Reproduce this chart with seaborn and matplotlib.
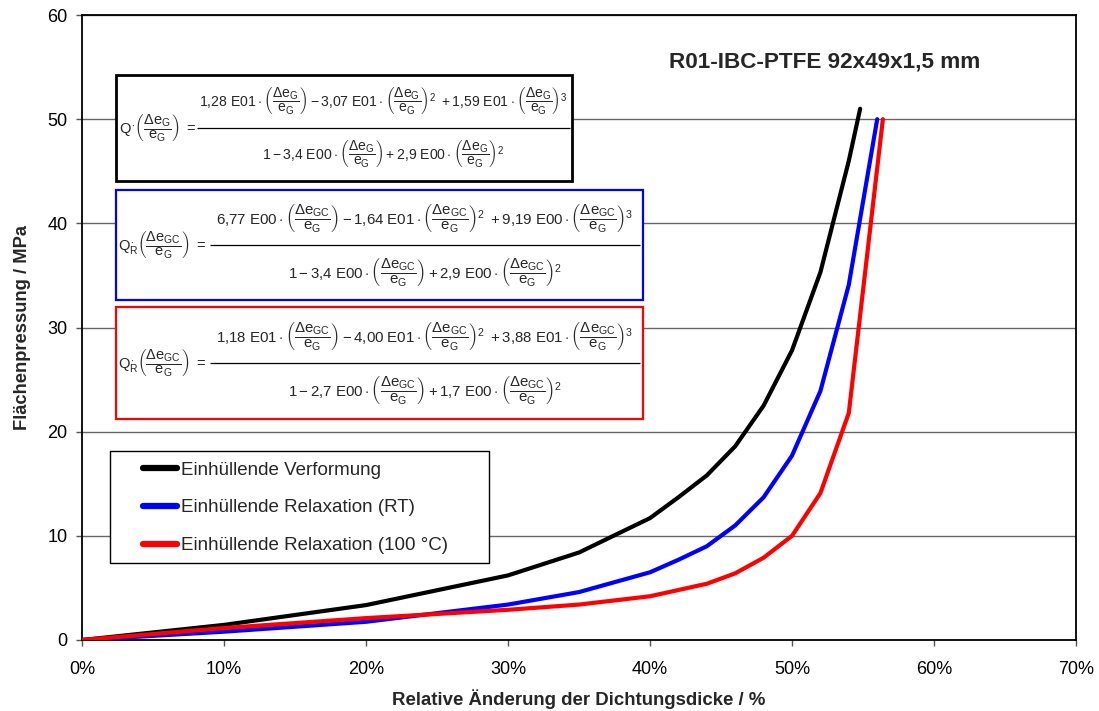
import numpy as np
import pandas as pd
import matplotlib
matplotlib.use("Agg")
import matplotlib.pyplot as plt
import seaborn as sns
from matplotlib.patches import Rectangle
from matplotlib.ticker import FuncFormatter

# ---- data ----
x_verformung = [0, 10, 20, 30, 35, 40, 42, 44, 46, 48, 50, 52, 54, 54.8]
y_verformung = [0, 1.45, 3.35, 6.2, 8.4, 11.7, 13.7, 15.8, 18.6, 22.5, 27.8, 35.3, 46.0, 51.0]

x_relax_rt = [0, 10, 20, 30, 35, 40, 42, 44, 46, 48, 50, 52, 54, 56.0]
y_relax_rt = [0, 0.8, 1.75, 3.4, 4.6, 6.5, 7.7, 9.0, 11.0, 13.7, 17.7, 23.9, 34.1, 50.0]

x_relax_100 = [0, 10, 20, 30, 35, 40, 42, 44, 46, 48, 50, 52, 54, 56.4]
y_relax_100 = [0, 1.15, 2.1, 2.9, 3.4, 4.2, 4.8, 5.4, 6.4, 7.9, 10.0, 14.1, 21.8, 50.0]

series_labels = ["Einhüllende Verformung", "Einhüllende Relaxation (RT)",
                 "Einhüllende Relaxation (100 °C)"]
series_colors = ["#000000", "#0000FF", "#FF0000"]

x_ticks = [0, 10, 20, 30, 40, 50, 60, 70]
y_ticks = [0, 10, 20, 30, 40, 50, 60]

title_text = "R01-IBC-PTFE 92x49x1,5 mm"
x_label = "Relative Änderung der Dichtungsdicke / %"
y_label = "Flächenpressung / MPa"

# formula texts (numerator / denominator kept separate)
fG = r"\left(\dfrac{\Delta e_G}{e_G}\right)"
fGC = r"\left(\dfrac{\Delta e_{GC}}{e_G}\right)"

lhs_black = r"$Q^{\cdot}" + fG + r"\ =$"
num_black = r"$1{,}28\ E01\cdot" + fG + r"-3{,}07\ E01\cdot" + fG + r"^2\ +1{,}59\ E01\cdot" + fG + r"^3$"
den_black = r"$1-3{,}4\ E00\cdot" + fG + r"+2{,}9\ E00\cdot" + fG + r"^2$"

lhs_blue = r"$Q^{\cdot}_{R}" + fGC + r"\ =$"
num_blue = r"$6{,}77\ E00\cdot" + fGC + r"-1{,}64\ E01\cdot" + fGC + r"^2\ +9{,}19\ E00\cdot" + fGC + r"^3$"
den_blue = r"$1-3{,}4\ E00\cdot" + fGC + r"+2{,}9\ E00\cdot" + fGC + r"^2$"

lhs_red = r"$Q^{\cdot}_{R}" + fGC + r"\ =$"
num_red = r"$1{,}18\ E01\cdot" + fGC + r"-4{,}00\ E01\cdot" + fGC + r"^2\ +3{,}88\ E01\cdot" + fGC + r"^3$"
den_red = r"$1-2{,}7\ E00\cdot" + fGC + r"+1{,}7\ E00\cdot" + fGC + r"^2$"

# ---- style ----
sns.set_theme(style="white")
plt.rcParams["font.family"] = ["Liberation Sans", "DejaVu Sans"]
plt.rcParams["mathtext.fontset"] = "custom"
plt.rcParams["mathtext.rm"] = "Liberation Sans"
plt.rcParams["mathtext.it"] = "Liberation Sans"
plt.rcParams["mathtext.bf"] = "Liberation Sans:bold"

fig = plt.figure(figsize=(10.99, 7.11), dpi=100)
ax = fig.add_axes([82 / 1099, 1 - 640 / 711, 994 / 1099, 625 / 711])

frames = []
for xs, ys, lab in [(x_verformung, y_verformung, series_labels[0]),
                    (x_relax_rt, y_relax_rt, series_labels[1]),
                    (x_relax_100, y_relax_100, series_labels[2])]:
    frames.append(pd.DataFrame({"x": xs, "y": ys, "Serie": lab}))
df = pd.concat(frames, ignore_index=True)

sns.lineplot(data=df, x="x", y="y", hue="Serie", palette=series_colors,
             hue_order=series_labels, sort=False, linewidth=3.0, ax=ax,
             legend=True, zorder=3)

ax.set_xlim(0, 70)
ax.set_ylim(0, 60)
ax.set_xticks(x_ticks)
ax.set_yticks(y_ticks)
ax.xaxis.set_major_formatter(FuncFormatter(lambda v, p: f"{int(round(v))}%"))
ax.tick_params(axis="both", which="major", labelsize=13, length=4.3, width=1,
               color="#555555", direction="out", bottom=True, left=True,
               labelcolor="#000000")
ax.tick_params(axis="x", pad=11)
ax.tick_params(axis="y", pad=6)
ax.yaxis.grid(True, color="#666666", linewidth=1.0, zorder=0)
ax.xaxis.grid(False)
for s in ax.spines.values():
    s.set_color("#000000")
    s.set_linewidth(1.3)
    s.set_visible(True)

ax.set_xlabel(x_label, fontsize=13.4, fontweight="bold", labelpad=8)
ax.set_ylabel(y_label, fontsize=13.2, fontweight="bold", labelpad=12)

ax.text(0.747, 0.925, title_text, transform=ax.transAxes, fontsize=16.2,
        fontweight="bold", ha="center", va="center")

# legend (frame drawn separately to match reference box size)
handles, labels = ax.get_legend_handles_labels()
for h in handles:
    h.set_linewidth(4.5)
ax.add_patch(Rectangle((0.0282, 0.123), 0.3813, 0.179, transform=ax.transAxes,
                       facecolor="white", edgecolor="#000000", linewidth=1.0,
                       zorder=4))
leg = ax.legend(handles, labels, loc="upper left", bbox_to_anchor=(0.0614, 0.2856),
                fontsize=13.5, frameon=False, handlelength=1.8, handletextpad=0.25,
                labelspacing=1.1, borderpad=0, borderaxespad=0)
leg.set_zorder(5)

# formula boxes: (box x0, y0, w, h, colour, lw, lhs x, bar x1, bar x2, bar y, size, texts)
gap = 0.043
boxes = [
    (0.0342, 0.7344, 0.4588, 0.1696, "#000000", 2.0, 0.0372, 0.1160, 0.4905, 0.8192, 10.1,
     lhs_black, num_black, den_black),
    (0.0342, 0.5440, 0.5302, 0.1760, "#0000FF", 1.6, 0.0360, 0.1290, 0.5610, 0.6320, 10.8,
     lhs_blue, num_blue, den_blue),
    (0.0342, 0.3536, 0.5302, 0.1790, "#FF0000", 1.6, 0.0360, 0.1290, 0.5610, 0.4430, 10.8,
     lhs_red, num_red, den_red),
]
for (x0, y0, w, h, col, lw, lx, bx1, bx2, by, fs, lhs, num, den) in boxes:
    ax.add_patch(Rectangle((x0, y0), w, h, transform=ax.transAxes, facecolor="white",
                           edgecolor=col, linewidth=lw, zorder=4))
    ax.text(lx, by, lhs, transform=ax.transAxes, ha="left", va="center",
            fontsize=10.5, zorder=5)
    ax.plot([bx1, bx2], [by, by], transform=ax.transAxes, color="#000000",
            linewidth=0.9, zorder=5, solid_capstyle="butt")
    cx = (bx1 + bx2) / 2
    ax.text(cx, by + gap, num, transform=ax.transAxes, ha="center", va="center",
            fontsize=fs, zorder=5)
    ax.text(cx, by - gap, den, transform=ax.transAxes, ha="center", va="center",
            fontsize=fs, zorder=5)

fig.savefig("out.png", dpi=100)
